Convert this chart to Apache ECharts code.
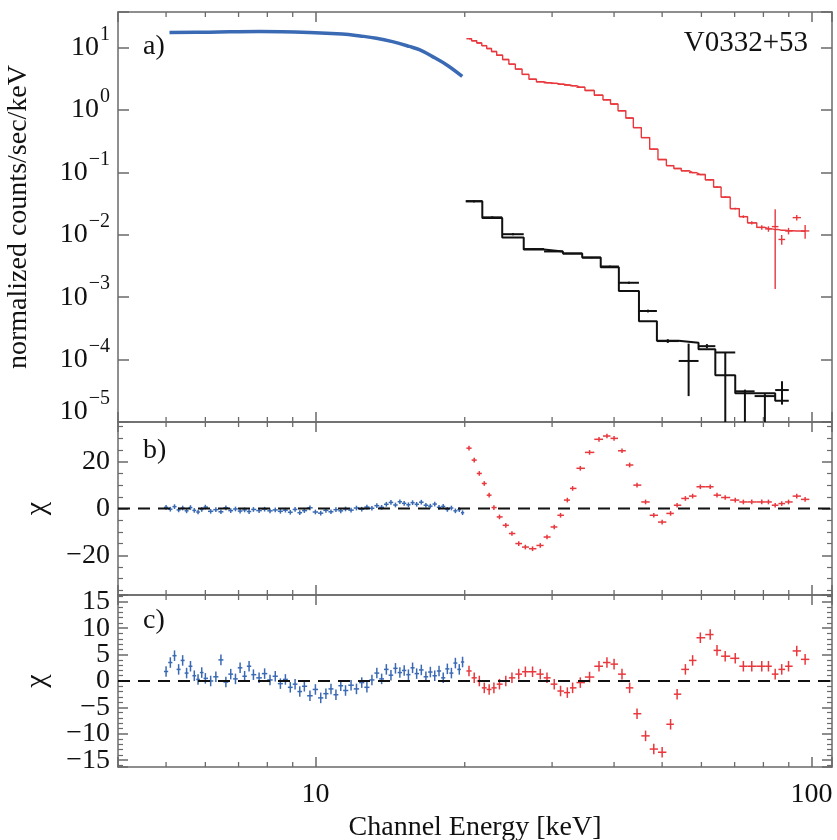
<!DOCTYPE html>
<html>
<head>
<meta charset="utf-8">
<script src="https://cdn.jsdelivr.net/npm/echarts@6.0.0/dist/echarts.min.js"></script>
<style>html,body{margin:0;padding:0;background:#fff}#c{width:837px;height:840px}</style>
</head>
<body>
<div id="c"></div>
<script>
// ---------------- DATA ----------------
// x axis (keV, log)
const xMin = 4, xMax = 110;
const xMajorLabels = [10, 100];
const xMinorTicks = [5, 6, 7, 8, 9, 20, 30, 40, 50, 60, 70, 80, 90];

// panel a: log y
const aMin = 1e-5, aMax = 37;
// panel b / c residual ranges
const bMin = -37, bMax = 37, bStep = 20;
const cMin = -16.3, cMax = 16.3, cStep = 5;

// blue (low-energy instrument) spectrum, panel a
const blueE = [5.08, 6.12, 7.71, 9.73, 11.33, 12.3, 13.27, 14.3, 15.46, 16.2, 17.19, 18.5, 19.77];
const blueV = [17.4, 17.6, 18.0, 17.4, 16.4, 15.3, 14.1, 12.4, 10.4, 9.2, 7.2, 5.1, 3.43];

// red spectrum bins (keV), shared by panels a, b, c
const redE = [20.4, 20.9, 21.4, 21.9, 22.4, 22.9, 23.5, 24.2, 24.9, 25.7,
              26.5, 27.4, 28.4, 29.3, 30.3, 31.2, 32.2, 33.0, 34.2, 35.7,
              37.3, 38.7, 40.0, 41.5, 43.0, 44.5, 46.3, 48.1, 50.0, 52.0,
              53.6, 55.7, 57.6, 59.7, 62.5, 64.5, 67.0, 70.2, 72.9, 75.8,
              79.4, 81.9, 84.5, 87.1, 89.9, 93.4, 97.1];
const redData = [13.8, 12.8, 11.8, 10.7, 9.6, 8.6, 7.5, 6.4, 5.4, 4.5,
                 3.7, 3.1, 2.82, 2.72, 2.66, 2.58, 2.50, 2.44, 2.30, 2.05,
                 1.72, 1.45, 1.24, 0.97, 0.74, 0.52, 0.36, 0.235, 0.160, 0.128,
                 0.115, 0.106, 0.099, 0.092, 0.076, 0.058, 0.040, 0.0262, 0.0195, 0.0155,
                 0.0131, 0.0124, 0.0135, 0.0084, 0.0115, 0.0188, 0.0115];
const redModel = [13.8, 12.8, 11.8, 10.7, 9.6, 8.6, 7.5, 6.4, 5.4, 4.5,
                  3.7, 3.1, 2.82, 2.72, 2.66, 2.58, 2.50, 2.44, 2.30, 2.05,
                  1.72, 1.45, 1.24, 0.97, 0.74, 0.52, 0.36, 0.235, 0.160, 0.128,
                  0.115, 0.106, 0.099, 0.092, 0.076, 0.058, 0.040, 0.0262, 0.0195, 0.0155,
                  0.0131, 0.0124, 0.0121, 0.0118, 0.0116, 0.0115, 0.0114];
const redErrFrac = [0.01, 0.01, 0.01, 0.01, 0.01, 0.01, 0.01, 0.01, 0.01, 0.01,
                    0.01, 0.01, 0.01, 0.01, 0.01, 0.01, 0.01, 0.01, 0.01, 0.01,
                    0.015, 0.015, 0.015, 0.015, 0.015, 0.015, 0.015, 0.015, 0.015, 0.02,
                    0.02, 0.02, 0.02, 0.02, 0.03, 0.03, 0.03, 0.03, 0.05, 0.06,
                    0.08, 0.10, 0.90, 0.18, 0.12, 0.10, 0.25];

// black spectrum bins, panel a
const blackLo = [20.1, 21.7, 23.8, 26.3, 28.9, 31.55, 34.5, 37.6, 40.9, 44.9, 48.8, 54.0, 59.2, 64.0, 70.2, 76.8, 84.5];
const blackHi = [21.7, 23.8, 26.3, 28.9, 31.55, 34.5, 37.6, 40.9, 44.9, 48.8, 54.0, 59.2, 64.0, 70.2, 76.8, 84.5, 90.0];
const blackModel = [0.0344, 0.0186, 0.0090, 0.0058, 0.0054, 0.0050, 0.0043, 0.0030, 0.00125, 4.1e-4, 2.0e-4, 1.86e-4, 1.46e-4, 5.6e-5, 2.9e-5, 2.9e-5, 2.2e-5];
const blackData = [0.0344, 0.0190, 0.0102, 0.0059, 0.0054, 0.0050, 0.0043, 0.0031, 0.0017, 6.0e-4, 1.98e-4, 9.5e-5, 1.64e-4, 1.3e-4, 3.1e-5, 2.6e-5, 3.25e-5];
const blackErrLo = [0.033, 0.0183, 0.0098, 0.0057, 0.0053, 0.0049, 0.0042, 0.0030, 0.00163, 5.7e-4, 1.85e-4, 2.6e-5, 1.52e-4, 1e-7, 1e-7, 1e-7, 1.9e-5];
const blackErrHi = [0.0356, 0.0197, 0.0106, 0.0061, 0.0055, 0.0051, 0.0044, 0.0032, 0.00177, 6.3e-4, 2.12e-4, 1.8e-4, 1.77e-4, 1.3e-4, 3.3e-5, 2.8e-5, 4.5e-5];

// residuals (chi), red, panels b and c
const redResB = [25.8, 20.7, 15.0, 10.7, 5.7, 0.4, -3.6, -7.2, -10.7, -15.0,
                 -16.5, -17.2, -15.8, -12.2, -7.9, -2.9, 3.6, 8.6, 17.2, 24.0,
                 29.6, 31.0, 30.0, 24.7, 18.6, 10.0, 2.8, -2.9, -5.8, -2.1,
                 1.4, 4.3, 5.3, 9.3, 9.3, 5.7, 4.7, 3.6, 2.8, 2.8,
                 2.8, 2.8, 1.4, 2.1, 2.8, 5.3, 3.9];
const redResC = [1.9, 0.6, 0.0, -1.3, -1.6, -1.3, -0.6, 0.0, 0.6, 1.3,
                 1.75, 1.75, 1.3, 0.6, -0.6, -1.9, -2.2, -1.3, -0.3, 0.75,
                 2.8, 3.5, 3.2, 1.3, -1.3, -6.2, -10.4, -12.9, -13.5, -8.2,
                 -2.5, 2.2, 3.9, 8.2, 8.8, 5.8, 4.7, 4.3, 2.8, 2.8,
                 2.8, 2.8, 1.3, 2.2, 2.8, 5.7, 4.1];

// residuals (chi), blue, panels b and c
const blueResE = [5.0, 5.1, 5.2, 5.3, 5.4, 5.5, 5.6, 5.7, 5.8, 5.9, 6.0,
                  6.15, 6.3, 6.45, 6.6, 6.75, 6.9, 7.05, 7.2, 7.35, 7.5,
                  7.7, 7.9, 8.1, 8.3, 8.5, 8.7, 8.9, 9.1, 9.3, 9.5,
                  9.75, 10.0, 10.25, 10.5, 10.75, 11.0, 11.25, 11.5,
                  11.8, 12.1, 12.4, 12.7, 13.0, 13.3, 13.6, 13.9, 14.2, 14.5, 14.8, 15.1, 15.4, 15.7, 16.0,
                  16.35, 16.7, 17.05, 17.4, 17.75, 18.1, 18.45, 18.8, 19.15, 19.5,
                  19.8];
const blueResB = [0.5, -0.3, 0.8, -0.6, 0.2, -1.0, 0.4, -0.8, -1.5, -0.4, 0.6,
                  -1.2, -0.5, -1.4, 0.3, -0.9, -0.2, -1.1, -0.6, -1.3, -0.4,
                  -0.9, -0.3, -1.0, -0.6, -1.2, -0.7, -1.6, -0.4, -1.8, -0.9,
                  0.3, -1.5, -2.0, -0.8, -1.4, -0.5, -1.0, -0.2,
                  -0.7, 0.2, -0.3, 0.6, 0.1, 1.2, 0.5, 1.8, 2.6, 1.5, 2.9, 2.2, 1.6, 2.5, 1.8,
                  2.7, 1.4, 1.0, 1.9, 0.5, 0.9, -0.4, 0.2, -1.0, -0.5,
                  -1.8];
const blueResC = [1.8, 3.5, 4.8, 2.2, 3.9, 1.5, 2.8, 1.0, 0.3, 1.6, 0.5,
                  0.0, 0.8, 4.0, -0.2, 1.3, 0.4, 2.5, 0.9, 2.8, 1.2,
                  0.6, 1.4, 0.2, 0.9, -0.5, 0.3, -1.2, -0.6, -2.0, -1.0,
                  -2.8, -1.6, -3.2, -2.4, -1.5, -2.6, -0.9, -1.8,
                  -0.8, -1.5, -0.3, -1.2, 0.2, 1.5, 0.4, 2.2, 1.1, 2.4, 1.6, 2.0, 1.2, 2.5, 1.4,
                  2.1, 0.8, 1.7, 1.0, 1.9, 0.6, 2.3, 1.5, 3.4, 2.2,
                  3.6];
const resErr = 1.0;

// ---------------- STYLE ----------------
const FONT = '"Liberation Serif", "Times New Roman", serif';
const TXT = '#111';
const FRAME = '#6a6a6a';
const BLUE = '#3a6ab3';
const RED = '#e8383d';
const BLACK = '#111';

const G = [
  {left: 118, top: 12, width: 714, height: 410},
  {left: 118, top: 422, width: 714, height: 173},
  {left: 118, top: 595, width: 714, height: 172}
];

function edgesOf(E) {
  const lo = [], hi = [];
  for (let i = 0; i < E.length; i++) {
    const l = i > 0 ? Math.sqrt(E[i - 1] * E[i]) : E[0] / Math.sqrt(E[1] / E[0]);
    const h = i < E.length - 1 ? Math.sqrt(E[i] * E[i + 1]) : E[i] * Math.sqrt(E[i] / E[i - 1]);
    lo.push(l); hi.push(h);
  }
  return {lo, hi};
}

function xAxisFor(gi, pos, showLabel) {
  return {
    type: 'log', logBase: 10, gridIndex: gi, position: pos, min: xMin, max: xMax,
    axisLine: {show: true, onZero: false, lineStyle: {color: FRAME, width: 1.5}},
    axisTick: {show: true, inside: true, length: 10, lineStyle: {color: FRAME, width: 1.5}},
    minorTick: {show: false}, splitLine: {show: false}, minorSplitLine: {show: false},
    axisLabel: {
      show: showLabel, margin: 14, fontFamily: FONT, fontSize: 28, color: TXT,
      formatter: function (v) {
        const r = Math.round(v);
        return (xMajorLabels.indexOf(r) >= 0 && Math.abs(v - r) < 1e-6) ? String(r) : '';
      }
    },
    name: showLabel ? 'Channel Energy [keV]' : '',
    nameLocation: 'middle', nameGap: 47,
    nameTextStyle: {fontFamily: FONT, fontSize: 28, color: TXT}
  };
}

function linAxisFor(gi, pos, mn, mx, step, minorSplit, showLabel, name) {
  return {
    type: 'value', gridIndex: gi, position: pos, min: mn, max: mx,
    minInterval: step, maxInterval: step,
    axisLine: {show: true, onZero: false, lineStyle: {color: FRAME, width: 1.5}},
    axisTick: {show: true, inside: true, length: 10, lineStyle: {color: FRAME, width: 1.5}},
    minorTick: {show: true, splitNumber: minorSplit, length: 5, lineStyle: {color: FRAME, width: 1.2}},
    splitLine: {show: false}, minorSplitLine: {show: false},
    axisLabel: {
      show: showLabel, margin: 8, fontFamily: FONT, fontSize: 28, color: TXT,
      showMinLabel: true, showMaxLabel: true,
      formatter: function (v) {
        const k = v / step;
        if (Math.abs(k - Math.round(k)) > 1e-6) return '';
        const r = Math.round(v);
        return r < 0 ? '\u2212' + (-r) : String(r);
      }
    },
    name: name || '', nameLocation: 'middle', nameGap: 66,
    nameTextStyle: {fontFamily: FONT, fontSize: 30, color: TXT}
  };
}

function logYAxis(pos, showLabel) {
  return {
    type: 'log', logBase: 10, gridIndex: 0, position: pos, min: aMin, max: aMax,
    axisLine: {show: true, onZero: false, lineStyle: {color: FRAME, width: 1.5}},
    axisTick: {show: true, inside: true, length: 11, lineStyle: {color: FRAME, width: 1.5}},
    minorTick: {show: false}, splitLine: {show: false}, minorSplitLine: {show: false},
    axisLabel: {
      show: showLabel, margin: 8,
      formatter: function (v) {
        const lg = Math.log10(v);
        const e = Math.round(lg);
        if (Math.abs(lg - e) > 1e-6) return '';
        const s = e < 0 ? '\u2212' + (-e) : String(e);
        if (e === -5) return '{b5|10}{s5|' + s + '}';
        return '{b|10}{s|' + s + '}';
      },
      rich: {
        b: {fontFamily: FONT, fontSize: 28, color: TXT, verticalAlign: 'middle'},
        s: {fontFamily: FONT, fontSize: 20, color: TXT, verticalAlign: 'middle', padding: [0, 0, 26, 1]},
        b5: {fontFamily: FONT, fontSize: 28, color: TXT, verticalAlign: 'middle', padding: [0, 0, 20, 0]},
        s5: {fontFamily: FONT, fontSize: 20, color: TXT, verticalAlign: 'middle', padding: [0, 0, 46, 1]}
      }
    },
    name: showLabel ? 'normalized counts/sec/keV' : '',
    nameLocation: 'middle', nameGap: 85,
    nameTextStyle: {fontFamily: FONT, fontSize: 28, color: TXT}
  };
}

function minorTickSeries(xi, yi, yVal) {
  return {
    type: 'custom', xAxisIndex: xi, yAxisIndex: yi, silent: true, z: 6,
    data: xMinorTicks.map(v => [v, yVal]),
    renderItem: function (params, api) {
      const cs = params.coordSys;
      const x = api.coord([api.value(0), api.value(1)])[0];
      const st = {stroke: FRAME, lineWidth: 1.3};
      return {type: 'group', children: [
        {type: 'line', shape: {x1: x, y1: cs.y + cs.height, x2: x, y2: cs.y + cs.height - 5}, style: st},
        {type: 'line', shape: {x1: x, y1: cs.y, x2: x, y2: cs.y + 5}, style: st}
      ]};
    }
  };
}

// items: [xc, y, xlo, xhi, ylo, yhi]
function crossSeries(xi, yi, items, color, lw, logFloor) {
  return {
    type: 'custom', xAxisIndex: xi, yAxisIndex: yi, silent: true, z: 3,
    data: items,
    renderItem: function (params, api) {
      const cs = params.coordSys;
      const top = cs.y, bot = cs.y + cs.height;
      const cl = v => Math.max(top, Math.min(bot, v));
      const xc = api.value(0), y = api.value(1), xlo = api.value(2), xhi = api.value(3);
      const ylo = api.value(4), yhi = api.value(5);
      const pc = api.coord([xc, y]);
      const xl = api.coord([xlo, y])[0], xr = api.coord([xhi, y])[0];
      const yT = cl(api.coord([xc, yhi])[1]);
      const yB = (logFloor != null && ylo <= logFloor) ? bot : cl(api.coord([xc, ylo])[1]);
      const st = {stroke: color, lineWidth: lw};
      const ch = [];
      if (pc[1] >= top && pc[1] <= bot) ch.push({type: 'line', shape: {x1: xl, y1: pc[1], x2: xr, y2: pc[1]}, style: st});
      ch.push({type: 'line', shape: {x1: pc[0], y1: yT, x2: pc[0], y2: yB}, style: st});
      return {type: 'group', children: ch};
    }
  };
}

const redEdges = edgesOf(redE);
const blueEdges = edgesOf(blueResE);

const redCrossA = redE.map((e, i) => {
  const s = redData[i] * redErrFrac[i];
  return [e, redData[i], redEdges.lo[i], redEdges.hi[i], redData[i] - s, redData[i] + s];
});
const blackCrossA = blackData.map((v, i) => [Math.sqrt(blackLo[i] * blackHi[i]), v, blackLo[i], blackHi[i], blackErrLo[i], blackErrHi[i]]);
const blackStep = blackLo.map((l, i) => [l, blackModel[i]]).concat([[blackHi[blackHi.length - 1], blackModel[blackModel.length - 1]]]);

function resItems(E, edges, res) {
  return E.map((e, i) => [e, res[i], edges.lo[i], edges.hi[i], res[i] - resErr, res[i] + resErr]);
}

function zeroLine(xi, yi) {
  return {
    type: 'line', xAxisIndex: xi, yAxisIndex: yi, silent: true, z: 4,
    data: [[xMin, 0], [xMax, 0]], symbol: 'none', animation: false,
    lineStyle: {color: '#111', width: 2, type: [12, 8]}
  };
}

const option = {
  animation: false,
  backgroundColor: '#fff',
  grid: G.map(g => Object.assign({containLabel: false, outerBoundsMode: 'none'}, g)),
  xAxis: [
    xAxisFor(0, 'bottom', false), xAxisFor(0, 'top', false),
    xAxisFor(1, 'bottom', false), xAxisFor(1, 'top', false),
    xAxisFor(2, 'bottom', true), xAxisFor(2, 'top', false)
  ],
  yAxis: [
    logYAxis('left', true), logYAxis('right', false),
    linAxisFor(1, 'left', bMin, bMax, bStep, 4, true, '\u03c7'), linAxisFor(1, 'right', bMin, bMax, bStep, 4, false, ''),
    linAxisFor(2, 'left', cMin, cMax, cStep, 5, true, '\u03c7'), linAxisFor(2, 'right', cMin, cMax, cStep, 5, false, '')
  ],
  graphic: [
    {type: 'text', left: 143, top: 33, style: {text: 'a)', font: '28px "Liberation Serif"', fill: TXT}},
    {type: 'text', left: 143, top: 437, style: {text: 'b)', font: '28px "Liberation Serif"', fill: TXT}},
    {type: 'text', left: 143, top: 607, style: {text: 'c)', font: '28px "Liberation Serif"', fill: TXT}},
    {type: 'text', right: 29, top: 29, style: {text: 'V0332+53', font: '29px "Liberation Serif"', fill: TXT}}
  ],
  series: [
    // panel a
    {type: 'line', xAxisIndex: 0, yAxisIndex: 0, data: blueE.map((e, i) => [e, blueV[i]]), smooth: 0.4,
     symbol: 'none', lineStyle: {color: BLUE, width: 3.5}, z: 2},
    {type: 'line', xAxisIndex: 0, yAxisIndex: 0, data: redE.map((e, i) => [e, redModel[i]]), step: 'middle',
     symbol: 'none', lineStyle: {color: RED, width: 1.4}, z: 2},
    crossSeries(0, 0, redCrossA, RED, 1.4, aMin),
    {type: 'line', xAxisIndex: 0, yAxisIndex: 0, data: blackStep, step: 'end',
     symbol: 'none', lineStyle: {color: BLACK, width: 2}, z: 2},
    crossSeries(0, 0, blackCrossA, BLACK, 2, aMin),
    minorTickSeries(0, 0, 1),
    // panel b
    zeroLine(2, 2),
    crossSeries(2, 2, resItems(blueResE, blueEdges, blueResB), BLUE, 1.5, null),
    crossSeries(2, 2, resItems(redE, redEdges, redResB), RED, 1.5, null),
    minorTickSeries(2, 2, 0),
    // panel c
    zeroLine(4, 4),
    crossSeries(4, 4, resItems(blueResE, blueEdges, blueResC), BLUE, 1.5, null),
    crossSeries(4, 4, resItems(redE, redEdges, redResC), RED, 1.5, null),
    minorTickSeries(4, 4, 0)
  ]
};

const chart = echarts.init(document.getElementById('c'), null, {renderer: 'canvas'});
chart.setOption(option);
</script>
</body>
</html>
